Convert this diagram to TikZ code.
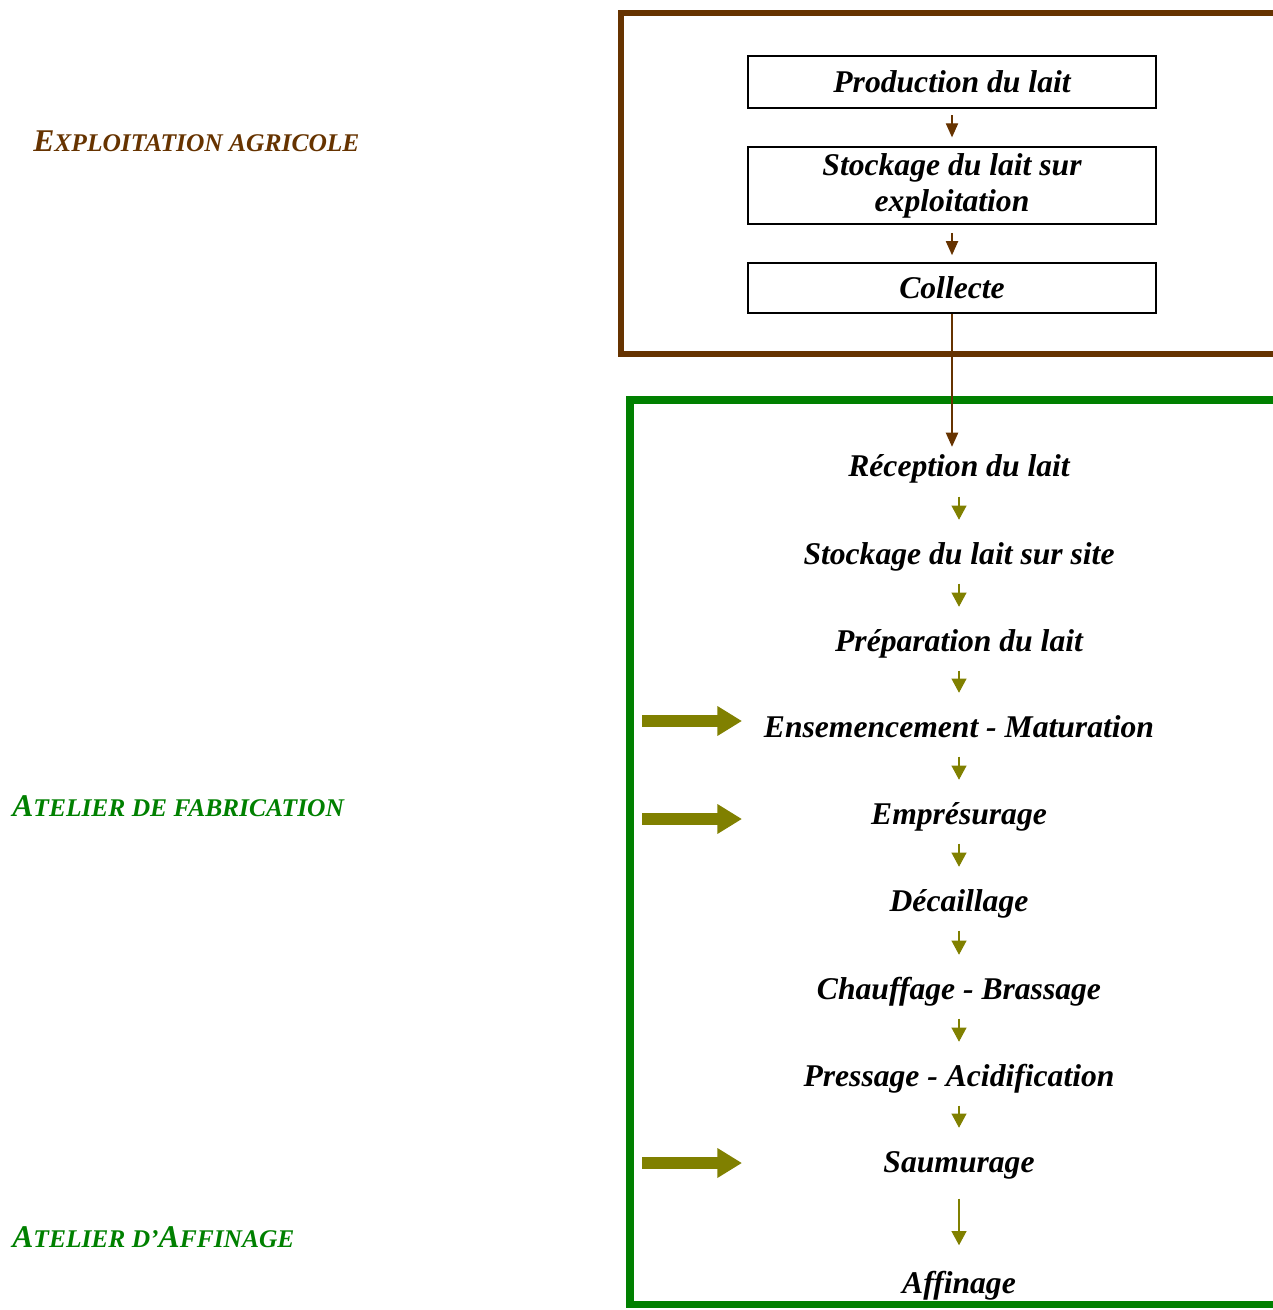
\documentclass[tikz,border=0pt]{standalone}
\usepackage{fontspec}
\setmainfont{Liberation Serif}
\usepackage{tikz}
\usepackage{xcolor}
\usetikzlibrary{arrows.meta,positioning}
\definecolor{mbrown}{HTML}{663300}
\definecolor{mgreen}{HTML}{008000}
\definecolor{molive}{HTML}{808000}
\newcommand{\stepfont}{\fontsize{18}{20.5}\selectfont\bfseries\itshape}
\newcommand{\capsc}[2]{{\fontsize{18}{18}\selectfont #1}{\fontsize{14.5}{14.5}\selectfont #2}}
\tikzstyle{l1}=[line width=1.1pt]
\tikzstyle{farm}=[draw=mbrown, line width=3.2pt]
\tikzstyle{plant}=[draw=mgreen, line width=4pt]
\tikzstyle{box}=[rectangle, draw=black, l1, minimum width=232pt, inner sep=0pt, font=\stepfont]
\tikzstyle{stage}=[anchor=base, text height=13pt, text depth=4pt, inner sep=0pt, font=\stepfont]
\tikzstyle{zone}=[anchor=base west, inner sep=0pt, font=\bfseries\itshape]
\tikzstyle{haul}=[line width=0.7pt, color=mbrown, -{Triangle[length=8pt,width=7pt]}]
\tikzstyle{flow}=[line width=0.6pt, color=molive, -{Triangle[length=8pt,width=8.5pt]}, shorten <=7pt, shorten >=12pt]
\tikzstyle{input}=[line width=7pt, color=molive, -{Triangle[length=14pt,width=16pt]}]

\begin{document}
\begin{tikzpicture}[x=0.02cm, y=-0.02cm]
    \useasboundingbox (0,0) rectangle (1272,1310);

    % frames
    \draw[farm] (1280,13) -- (621,13) -- (621,354) -- (1280,354);
    \draw[plant] (1280,400) -- (630,400) -- (630,1304) -- (1280,1304);

    \node (farmlab) [zone, color=mbrown] at (33,152) {\capsc{E}{XPLOITATION AGRICOLE}};
    \node (fablab) [zone, color=mgreen] at (12,816) {\capsc{A}{TELIER DE FABRICATION}};
    \node (afflab) [zone, color=mgreen] at (12,1247) {\capsc{A}{TELIER D’}\capsc{A}{FFINAGE}};

    % on the farm
    \node (prod) [box, minimum height=29.5pt] at (952,82) {Production du lait};
    \node (stk) [box, minimum height=43.7pt, align=center] at (952,185.5) {Stockage du lait sur\\exploitation};
    \node (col) [box, minimum height=28.3pt] at (952,288) {Collecte};
    \draw[haul, shorten <=3.5pt, shorten >=5pt] (prod) -- (stk);
    \draw[haul, shorten <=4.5pt, shorten >=4pt] (stk) -- (col);

    % in the plant
    \node (rec) [stage] at (959,477) {Réception du lait};
    \node (sto) [stage] at (959,564) {Stockage du lait sur site};
    \node (pre) [stage] at (959,651) {Préparation du lait};
    \node (ens) [stage] at (959,737) {Ensemencement - Maturation};
    \node (emp) [stage] at (959,824) {Emprésurage};
    \node (dec) [stage] at (959,911) {Décaillage};
    \node (cha) [stage] at (959,999) {Chauffage - Brassage};
    \node (pres) [stage] at (959,1086) {Pressage - Acidification};
    \node (sau) [stage] at (959,1172) {Saumurage};
    \node (aff) [stage] at (959,1293) {Affinage};

    \draw[haul, shorten >=4pt] (col.south) -- (col.south |- rec.north);
    \draw[flow] (rec) -- (sto);
    \draw[flow] (sto) -- (pre);
    \draw[flow] (pre) -- (ens);
    \draw[flow] (ens) -- (emp);
    \draw[flow] (emp) -- (dec);
    \draw[flow] (dec) -- (cha);
    \draw[flow] (cha) -- (pres);
    \draw[flow] (pres) -- (sau);
    \draw[flow, shorten <=11pt, shorten >=14pt] (sau) -- (aff);

    % inputs
    \coordinate (ensin) at (642,721);
    \coordinate (ensat) at (742,721);
    \coordinate (empin) at (642,819);
    \coordinate (empat) at (742,819);
    \coordinate (sauin) at (642,1163);
    \coordinate (sauat) at (742,1163);
    \draw[input] (ensin) -- (ensat);
    \draw[input] (empin) -- (empat);
    \draw[input] (sauin) -- (sauat);
\end{tikzpicture}
\end{document}
